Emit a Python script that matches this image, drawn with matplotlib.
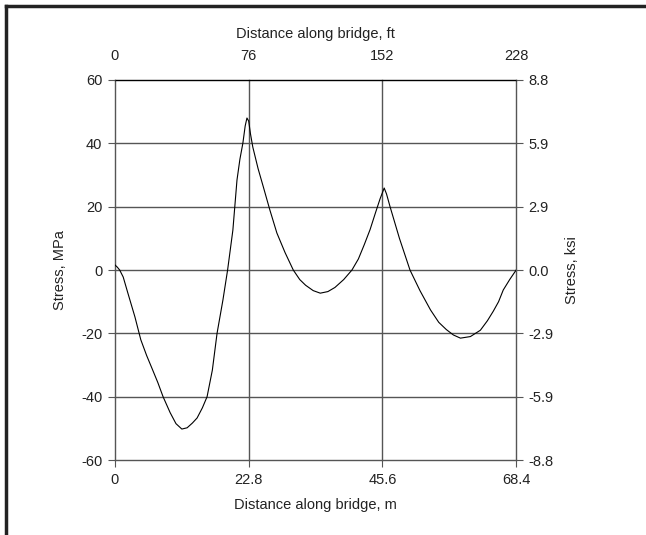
import matplotlib
matplotlib.use('Agg')
from matplotlib import pyplot as plt
from matplotlib.lines import Line2D

plt.rcParams['font.family'] = ['Liberation Sans', 'DejaVu Sans']
plt.rcParams['font.size'] = 10.5

# stress along the bridge
dist_m = [0, 0.4, 0.8, 1.4, 2.2, 3.4, 4.4, 5.4, 6.3, 7.3, 8.2, 9.4, 10.4,
          11.4, 12.3, 13.2, 14.0, 14.9, 15.7, 16.6, 17.4, 18.4, 19.2, 20.1,
          20.8, 21.3, 21.8, 22.2, 22.5, 22.8, 23.1, 23.5, 24.4, 25.3, 26.4,
          27.6, 29.0, 30.4, 31.5, 32.5, 33.8, 35.0, 36.3, 37.5, 39.0, 40.4,
          41.5, 42.5, 43.5, 44.4, 45.2, 45.9, 46.3, 46.9, 47.7, 48.5, 49.4,
          50.3, 52.0, 53.8, 55.2, 56.5, 57.7, 58.9, 60.6, 62.3, 63.5, 64.5,
          65.4, 66.2, 67.3, 68.4]
stress_mpa = [1.6, 0.9, 0, -2.2, -7.3, -14.8, -22, -27, -31, -35.5, -40, -45,
              -48.5, -50.2, -49.8, -48.3, -46.7, -43.5, -40, -31.6, -20, -9.5,
              0, 12.6, 28.4, 35, 40, 45.5, 48, 47, 43, 38.8, 32, 26.2, 19,
              11.7, 5.5, 0, -3, -4.8, -6.5, -7.3, -6.8, -5.5, -3, 0, 3.5, 8,
              12.8, 18, 22.5, 25.9, 24, 20, 15, 10, 5, 0, -6.5, -12.6, -16.5,
              -18.8, -20.5, -21.5, -21, -19, -16, -13, -10, -6.3, -3, 0]

m_ticks = [0, 22.8, 45.6, 68.4]
m_labels = ['0', '22.8', '45.6', '68.4']
ft_labels = ['0', '76', '152', '228']
mpa_ticks = [-60, -40, -20, 0, 20, 40, 60]
ksi_labels = ['-8.8', '-5.9', '-2.9', '0.0', '2.9', '5.9', '8.8']

fig = plt.figure(figsize=(6.46, 5.35), dpi=100)
ax = fig.add_axes([0.178, 0.14, 0.621, 0.7105])
grid_c = '#555555'
txt_c = '#222222'

ax.plot(dist_m, stress_mpa, color='black', linewidth=0.8)
ax.set_xlim(0, 68.4)
ax.set_ylim(-60, 60)
ax.set_xticks(m_ticks)
ax.set_xticklabels(m_labels)
ax.set_yticks(mpa_ticks)
ax.set_yticklabels([str(v) for v in mpa_ticks])
for x in m_ticks:
    ax.axvline(x, color=grid_c, linewidth=1.0, zorder=0, clip_on=False)
for y in mpa_ticks:
    ax.axhline(y, color='black' if y == 60 else grid_c, linewidth=1.0,
               zorder=0, clip_on=False)
for s in ax.spines.values():
    s.set_visible(False)
ax.tick_params(direction='out', length=5, width=0.8, color=grid_c,
               labelcolor=txt_c, pad=4)
ax.set_xlabel('Distance along bridge, m', color=txt_c, labelpad=8)
ax.set_ylabel('Stress, MPa', color=txt_c, labelpad=10)

# top axis in feet
axt = ax.twiny()
axt.set_xlim(ax.get_xlim())
axt.set_xticks(m_ticks)
axt.set_xticklabels(ft_labels)
axt.tick_params(length=0, pad=12, labelcolor=txt_c)
axt.set_xlabel('Distance along bridge, ft', color=txt_c, labelpad=8)

# right axis in ksi
axr = ax.twinx()
axr.set_ylim(ax.get_ylim())
axr.set_yticks(mpa_ticks)
axr.set_yticklabels(ksi_labels)
axr.tick_params(direction='out', length=5, width=0.8, color=grid_c,
                labelcolor=txt_c, pad=4)
axr.set_ylabel('Stress, ksi', color=txt_c, labelpad=8)
for a in (axt, axr):
    for s in a.spines.values():
        s.set_visible(False)

# frame lines at top and left of the picture
fig.add_artist(Line2D([0.0093, 1.0], [0.9888, 0.9888], color=txt_c,
                      linewidth=2.5, transform=fig.transFigure))
fig.add_artist(Line2D([0.0093, 0.0093], [0.0, 0.9888], color=txt_c,
                      linewidth=2.5, transform=fig.transFigure))

plt.savefig('out.png', dpi=100)
